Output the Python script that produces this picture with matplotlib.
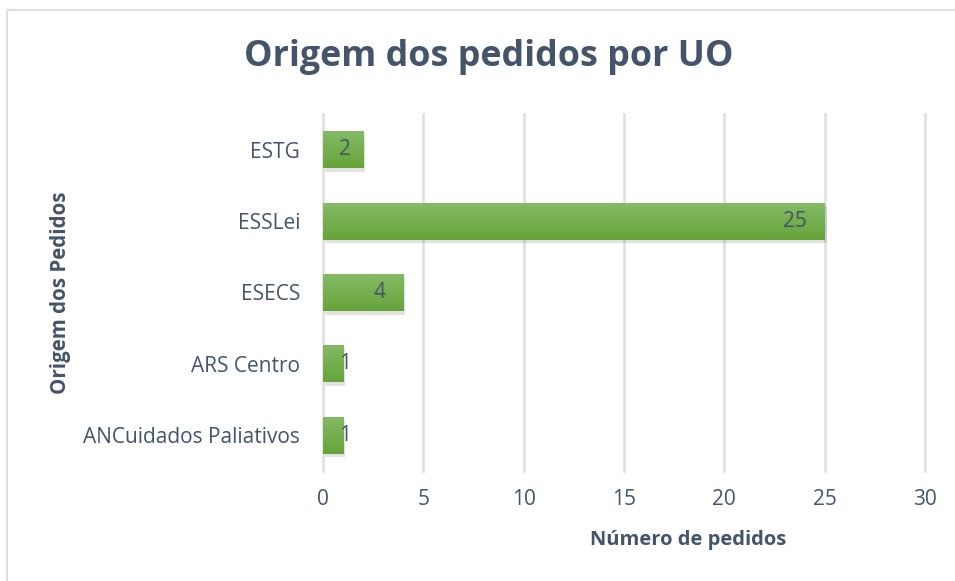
import matplotlib
matplotlib.use("Agg")
import matplotlib.pyplot as plt
import matplotlib.patheffects as pe
import numpy as np
from matplotlib.colors import LinearSegmentedColormap
from matplotlib.lines import Line2D

categories = ["ANCuidados Paliativos", "ARS Centro", "ESECS", "ESSLei", "ESTG"]
values = [1, 1, 4, 25, 2]
x_ticks = [0, 5, 10, 15, 20, 25, 30]

TEXT = "#44546A"
GRID = "#DCDFE3"
BAR_H = 0.52

plt.rcParams["font.family"] = ["Open Sans", "DejaVu Sans"]

W, H = 955, 581
fig = plt.figure(figsize=(W / 100, H / 100), dpi=100)
ax = fig.add_axes([323 / W, 1 - 471 / H, (925 - 323) / W, (471 - 114) / H])

# light-to-dark vertical green gradient, like the Excel fill
green = LinearSegmentedColormap.from_list("g", ["#66A43A", "#85BB66"])
grad = np.linspace(0, 1, 64).reshape(-1, 1)

pos = list(range(len(categories)))
bars = ax.barh(pos, values, height=BAR_H, color="#70AD47", zorder=3)
for b, i, v in zip(bars, pos, values):
    b.set_path_effects([pe.SimplePatchShadow(offset=(1.5, -2.5), alpha=0.15,
                                             shadow_rgbFace="#404040"),
                        pe.Normal()])
    im = ax.imshow(grad, cmap=green, origin="lower", aspect="auto",
                   extent=(0, v, i - BAR_H / 2, i + BAR_H / 2), zorder=3.5)
    im.set_clip_path(b)

# data labels, "inside end"; short bars get pushed to the base
for i, v in zip(pos, values):
    if v <= 2:
        ax.annotate(str(v), xy=(0, i), xytext=(11.5, 0), textcoords="offset points",
                    ha="left", va="center", fontsize=15, color=TEXT, zorder=5)
    else:
        ax.annotate(str(v), xy=(v, i), xytext=(-12.5, 0), textcoords="offset points",
                    ha="right", va="center", fontsize=15, color=TEXT, zorder=5)

ax.set_xlim(0, 30)
ax.set_ylim(-0.5, len(categories) - 0.5)
ax.set_xticks(x_ticks)
ax.set_yticks(pos)
ax.set_yticklabels(categories)
ax.tick_params(axis="both", length=0, labelsize=15, labelcolor=TEXT)
ax.tick_params(axis="x", pad=13)
ax.tick_params(axis="y", pad=16.5)
ax.grid(axis="x", color=GRID, linewidth=1.8, zorder=0)
for gl in ax.get_xgridlines():
    gl.set_clip_on(False)
for s in ax.spines.values():
    s.set_visible(False)

ax.set_xlabel("Número de pedidos", fontsize=14.5, fontweight="bold", color=TEXT)
ax.xaxis.set_label_coords((688 - 323) / (925 - 323), -(530 - 471) / (471 - 114))
ax.set_ylabel("Origem dos Pedidos", fontsize=14.8, fontweight="bold", color=TEXT)
ax.yaxis.set_label_coords(-(323 - 71) / (925 - 323), 0.5)

fig.text(489 / W, 1 - 57 / H, "Origem dos pedidos por UO", ha="center", va="center",
         fontsize=25.8, fontweight="bold", color=TEXT)

# chart area border (left and top visible)
fig.add_artist(Line2D([7 / W, 7 / W], [0, 1 - 10 / H], transform=fig.transFigure,
                      color=GRID, linewidth=1.5))
fig.add_artist(Line2D([7 / W, 1], [1 - 10 / H, 1 - 10 / H], transform=fig.transFigure,
                      color=GRID, linewidth=1.5))

fig.savefig("out.png", dpi=100)
